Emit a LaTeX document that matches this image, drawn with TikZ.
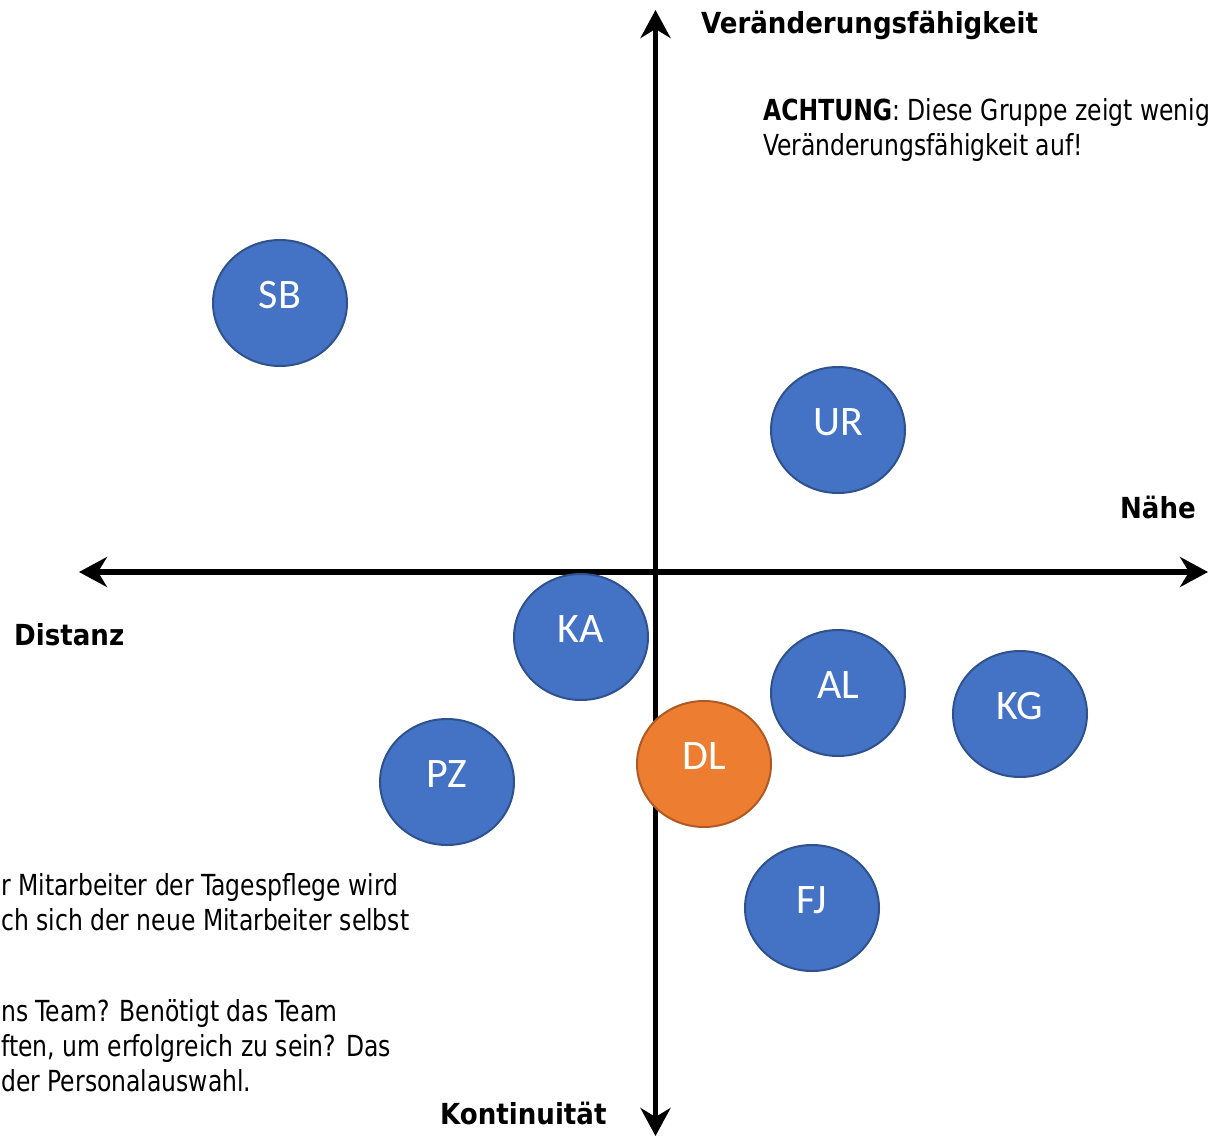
\documentclass[tikz,border=0pt]{standalone}
\usepackage{fontspec}
\setmainfont{DejaVu Sans Condensed}
\newfontfamily\notefont{DejaVu Sans Condensed}[FakeStretch=0.9]
\newfontfamily\initialsfont{Carlito}
\usepackage{xcolor}
\usetikzlibrary{shapes.geometric,arrows.meta}
\definecolor{teamblue}{HTML}{4472C4}
\definecolor{teamedge}{HTML}{2F528F}
\definecolor{leadorange}{HTML}{ED7D31}
\definecolor{leadedge}{HTML}{AE5A21}

\begin{document}
\begin{tikzpicture}[x=1pt,y=-1pt,>={Stealth[length=28pt,width=30pt,inset=9pt]},
  person/.style={ellipse,draw=teamedge,line width=2pt,fill=teamblue,
    minimum width=134pt,minimum height=126pt,inner sep=0pt,text=white,
    font=\initialsfont\fontsize{42}{50}\selectfont,text depth=16pt},
  leader/.style={person,draw=leadedge,fill=leadorange},
  axislabel/.style={font=\bfseries\fontsize{29}{35}\selectfont,inner sep=0pt},
  note/.style={font=\notefont\fontsize{29}{35}\selectfont,inner sep=0pt}]
  \useasboundingbox (0,0) rectangle (1219,1136);
  \clip (0,0) rectangle (1219,1136);
% axes
  \coordinate (top) at (655.5,10);
  \coordinate (bottom) at (655.5,1136);
  \coordinate (left) at (79,572);
  \coordinate (right) at (1208,572);
  \draw[<->,line width=5.5pt] (bottom) -- (top);
  \draw[<->,line width=5.5pt] (left) -- (right);
% axis labels
  \node[axislabel,anchor=base west] (change) at (701,33) {Veränderungsfähigkeit};
  \node[axislabel,anchor=base east] (near) at (1196,518) {Nähe};
  \node[axislabel,anchor=base west] (far) at (14,645) {Distanz};
  \node[axislabel,anchor=base west] (keep) at (440,1124) {Kontinuität};
% notes
  \node[note,anchor=base west] (warn1) at (763,120) {\textbf{ACHTUNG}: Diese Gruppe zeigt wenig};
  \node[note,anchor=base west] (warn2) at (763,155) {Veränderungsfähigkeit auf!};
  \node[note,anchor=base west] (info1) at (1,895) {r Mitarbeiter der Tagespflege wird};
  \node[note,anchor=base west] (info2) at (1,930) {ch sich der neue Mitarbeiter selbst};
  \node[note,anchor=base west] (info3) at (1,1021) {ns Team? Benötigt das Team};
  \node[note,anchor=base west] (info4) at (1,1056) {ften, um erfolgreich zu sein? Das};
  \node[note,anchor=base west] (info5) at (1,1091) {der Personalauswahl.};
% team members
  \foreach \who/\x/\y in {SB/280/303,UR/838/430,KA/581/637,AL/838/693,
                          KG/1020/714,PZ/447/782,FJ/812/908}
    \node[person] (\who) at (\x,\y) {\who};
  \node[leader] (DL) at (704,764) {DL};
\end{tikzpicture}
\end{document}
